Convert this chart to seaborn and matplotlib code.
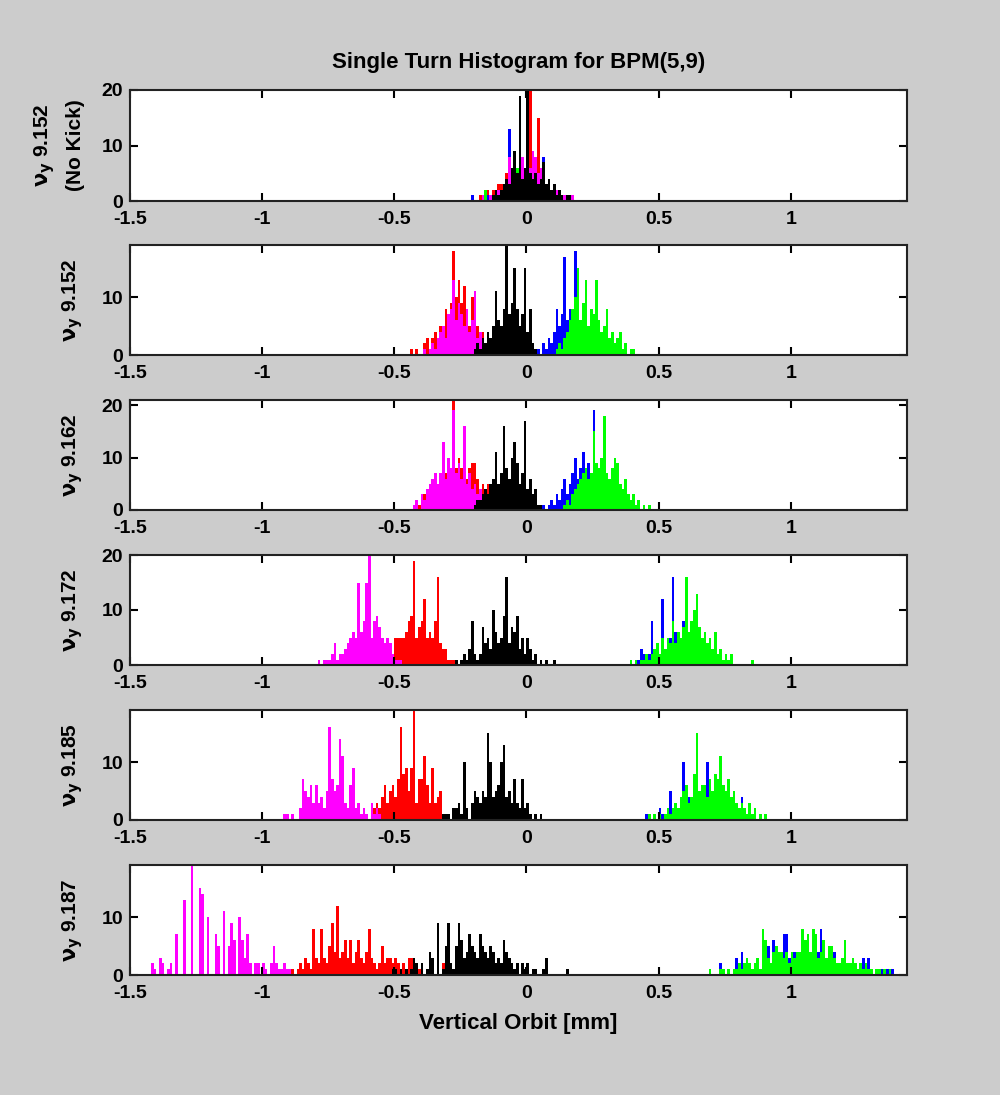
import numpy as np
import pandas as pd
import matplotlib
matplotlib.use("Agg")
import matplotlib.pyplot as plt
import seaborn as sns

# ---------------- data (counts per 0.01 mm bin, first bin centre given) ----------------
TITLE = "Single Turn Histogram for BPM(5,9)"
XLABEL = "Vertical Orbit [mm]"
TUNES = ["9.152", "9.152", "9.162", "9.172", "9.185", "9.187"]
NOTES = ["(No Kick)", "", "", "", "", ""]
XTICKS = [-1.5, -1, -0.5, 0, 0.5, 1]
XTICKLABELS = ["-1.5", "-1", "-0.5", "0", "0.5", "1"]
YTICKS = [0, 10, 20]
XRANGE = (-1.5, 1.44)
BIN = 0.01

# panel 1 (no kick)
p1_red_x0 = -0.205
p1_red = [1,0,0,1,1,1,2,1,2,2,3,3,3,5,4,5,5,3,4,7,5,4,20,5,7,15,5,4,3,2,2,3,1,1,1,0,0,0,0,0]
p1_blue_x0 = -0.205
p1_blue = [1,0,0,0,0,0,1,0,1,1,2,2,3,2,13,4,8,4,5,6,4,5,4,3,6,4,3,8,3,2,2,1,1,0,0,0,0,0,0,0]
p1_green_x0 = -0.205
p1_green = [0,0,0,0,0,2,0,1,1,1,2,2,3,2,3,4,3,6,4,5,4,3,4,3,4,3,2,2,2,1,2,1,1,1,0,0,0,0,0,0]
p1_magenta_x0 = -0.205
p1_magenta = [0,0,0,0,1,0,0,1,0,1,2,1,3,4,8,5,7,5,6,8,5,7,6,9,8,5,6,4,3,3,2,1,2,1,0,1,0,1,1,0]
p1_black_x0 = -0.205
p1_black = [0,0,0,0,0,0,0,0,1,2,1,2,3,4,3,6,9,5,19,4,6,20,5,4,5,3,4,7,3,4,2,3,1,2,1,0,1,1,0,0]

# panel 2
p2_red_x0 = -0.435
p2_red = [1,0,1,0,0,2,3,1,3,4,3,5,5,8,6,9,18,10,13,9,12,6,5,10,4,5,3,4,2,3,1]
p2_blue_x0 = 0.045
p2_blue = [1,0,2,1,3,2,4,8,5,7,17,6,8,5,18,9,4]
p2_green_x0 = 0.115
p2_green = [1,2,1,3,4,6,8,10,15,6,9,13,5,8,7,13,6,4,5,8,3,4,2,3,4,1,2,0,1,1]
p2_magenta_x0 = -0.385
p2_magenta = [1,0,1,2,1,3,4,5,3,7,8,13,6,9,7,5,8,4,6,11,3,4,2,1]
p2_black_x0 = -0.195
p2_black = [1,2,1,3,2,4,3,5,11,6,5,8,19,7,9,15,8,5,7,15,4,8,2,1]

# panel 3
p3_red_x0 = -0.425
p3_red = [0,1,1,2,3,2,4,5,6,5,6,8,7,9,8,21,8,10,8,12,6,8,9,9,6,4,5,3,5,2,1]
p3_blue_x0 = 0.065
p3_blue = [1,0,1,2,1,3,2,4,6,3,5,7,10,6,8,11,6,9,7,19,8]
p3_green_x0 = 0.145
p3_green = [1,2,1,3,4,5,6,7,8,6,7,15,9,8,10,18,7,6,8,10,9,5,4,6,3,2,3,1,2,0,1,0,1]
p3_magenta_x0 = -0.425
p3_magenta = [1,2,0,3,2,4,5,6,7,5,7,13,6,10,8,19,7,9,6,16,5,7,4,5,3,4,2,2,1,1]
p3_black_x0 = -0.195
p3_black = [1,2,2,3,4,3,5,6,11,5,7,16,8,6,10,13,9,5,7,17,4,6,3,4,1,1]

# panel 4
p4_red_x0 = -0.505
p4_red = [2,5,5,5,5,6,8,9,19,5,7,8,12,5,6,5,8,16,4,3,3,1,1,1,1]
p4_blue_x0 = 0.395
p4_blue = [1,0,1,1,3,2,1,2,8,3,4,2,12,3,2,5,16,6,4,5,8,3,4,5,3,4,2,3,2,1,1,0,1,0,0,1,0,1]
p4_green_x0 = 0.395
p4_green = [1,0,1,0,1,1,2,1,2,3,4,2,5,3,5,4,8,4,6,5,7,16,6,8,10,13,7,5,6,4,5,3,6,2,3,1,2,1,2,0,0,0,0,0,0,0,1]
p4_magenta_x0 = -0.785
p4_magenta = [1,0,1,1,1,2,4,1,2,2,3,4,5,6,5,15,6,8,15,20,5,8,9,7,5,4,5,4,2,1,1,1]
p4_black_x0 = -0.265
p4_black = [1,0,1,2,1,3,8,2,1,2,7,4,5,3,10,6,4,5,9,16,4,7,6,9,3,5,2,5,3,1,2,0,1,0,1,0,0,1]

# panel 5
p5_red_x0 = -0.585
p5_red = [3,2,3,2,4,6,3,5,6,4,7,16,8,9,5,9,19,3,7,7,11,6,3,9,3,4,5]
p5_blue_x0 = 0.455
p5_blue = [1,1,0,1,0,2,1,1,2,5,2,3,2,3,10,3,4,3,5,4,2,3,4,10,3,2,4,3,2,3,4,2,1,1,2,1,4,1,1,0,0,1]
p5_green_x0 = 0.465
p5_green = [1,0,1,0,1,0,1,2,1,2,3,2,4,5,6,3,4,8,15,5,6,6,4,7,5,8,7,11,6,5,7,4,5,3,2,3,2,1,3,1,2,0,1,0,1]
p5_magenta_x0 = -0.915
p5_magenta = [1,1,0,1,0,0,2,7,5,4,6,3,6,3,4,2,5,16,7,5,6,14,11,3,2,6,9,2,3,1,2,1,0,3,1,2,1]
p5_black_x0 = -0.315
p5_black = [1,1,1,0,2,2,3,1,10,2,0,3,5,4,3,5,4,15,10,4,5,6,10,13,4,5,3,7,3,2,7,2,3,1,0,1,0,1]

# panel 6
p6_red_x0 = -0.895
p6_red = [1,1,0,1,2,1,3,2,1,8,3,2,8,3,2,5,9,4,12,3,4,6,3,6,2,4,6,3,2,4,8,3,2,1,2,5,2,3,3,2,3,2,1,2,1,3,3,1,0,1,0,0,0,1,0,0,0,0,2]
p6_blue_x0 = 0.735
p6_blue = [2,1,0,1,0,1,3,2,4,1,2,1,0,1,2,0,1,3,5,2,6,2,4,3,7,7,3,2,4,3,4,5,3,2,3,3,2,4,8,6,2,3,2,4,2,1,2,1,1,0,1,0,1,0,3,1,3,1,0,1,0,1,0,1,0,1]
p6_green_x0 = 0.695
p6_green = [1,0,0,0,1,1,0,1,0,1,1,2,1,2,3,2,1,2,3,1,8,6,3,2,4,5,4,4,3,4,2,4,3,4,4,8,6,7,4,8,7,3,4,6,3,5,5,3,2,2,3,6,2,2,3,2,1,2,1,2,1,1,0,1,1,0,1,0,1]
p6_magenta_x0 = -1.415
p6_magenta = [2,1,0,3,2,0,1,2,0,7,0,0,13,0,0,19,0,0,15,14,0,10,0,0,7,5,0,11,0,5,9,6,0,10,6,3,7,2,0,2,2,0,2,1,0,2,5,2,1,1,2,1,1]
p6_black_x0 = -0.505
p6_black = [1,1,0,1,0,1,0,1,3,2,0,2,0,1,4,3,0,9,0,1,5,9,2,1,5,9,6,3,4,7,5,4,3,7,5,4,3,5,4,2,3,2,6,4,3,2,1,2,0,2,1,2,0,1,1,0,0,1,3,0,0,0,0,0,0,0,1]

COLORS = {"red": "#ff0000", "blue": "#0000ff", "green": "#00ff00",
          "magenta": "#ff00ff", "black": "#000000"}
ORDER = ["red", "blue", "green", "magenta", "black"]

PANELS = [
    {"red": (p1_red_x0, p1_red), "blue": (p1_blue_x0, p1_blue), "green": (p1_green_x0, p1_green),
     "magenta": (p1_magenta_x0, p1_magenta), "black": (p1_black_x0, p1_black)},
    {"red": (p2_red_x0, p2_red), "blue": (p2_blue_x0, p2_blue), "green": (p2_green_x0, p2_green),
     "magenta": (p2_magenta_x0, p2_magenta), "black": (p2_black_x0, p2_black)},
    {"red": (p3_red_x0, p3_red), "blue": (p3_blue_x0, p3_blue), "green": (p3_green_x0, p3_green),
     "magenta": (p3_magenta_x0, p3_magenta), "black": (p3_black_x0, p3_black)},
    {"red": (p4_red_x0, p4_red), "blue": (p4_blue_x0, p4_blue), "green": (p4_green_x0, p4_green),
     "magenta": (p4_magenta_x0, p4_magenta), "black": (p4_black_x0, p4_black)},
    {"red": (p5_red_x0, p5_red), "blue": (p5_blue_x0, p5_blue), "green": (p5_green_x0, p5_green),
     "magenta": (p5_magenta_x0, p5_magenta), "black": (p5_black_x0, p5_black)},
    {"red": (p6_red_x0, p6_red), "blue": (p6_blue_x0, p6_blue), "green": (p6_green_x0, p6_green),
     "magenta": (p6_magenta_x0, p6_magenta), "black": (p6_black_x0, p6_black)},
]

# ---------------- style ----------------
plt.rcParams["font.family"] = ["Liberation Sans", "DejaVu Sans"]
plt.rcParams["font.weight"] = "bold"
plt.rcParams["mathtext.fontset"] = "dejavusans"
plt.rcParams["mathtext.default"] = "bf"

BG = "#cccccc"
fig = plt.figure(figsize=(10.0, 10.95), dpi=100, facecolor=BG)

W, H = 1000.0, 1095.0
left_px, right_px = 130, 907
rows_px = [(90, 201), (245, 355), (400, 510), (555, 665), (710, 820), (865, 975)]

axes = []
for i, (top, bot) in enumerate(rows_px):
    ax = fig.add_axes([left_px / W, 1 - bot / H, (right_px - left_px) / W, (bot - top) / H])
    ax.set_facecolor("white")
    ymax = 0
    for key in ORDER:
        x0, counts = PANELS[i][key]
        counts = np.asarray(counts, dtype=float)
        centers = x0 + BIN * np.arange(len(counts))
        edges = [float(c - BIN / 2) for c in centers] + [float(centers[-1] + BIN / 2)]
        ymax = max(ymax, counts.max())
        df = pd.DataFrame({"x": centers, "w": counts})
        sns.histplot(data=df, x="x", weights="w", bins=edges, color=COLORS[key],
                     alpha=1.0, linewidth=0, element="bars", fill=True, ax=ax)
    ax.set_xlim(*XRANGE)
    ax.set_ylim(0, ymax)
    ax.set_xticks(XTICKS)
    ax.set_xticklabels(XTICKLABELS)
    ax.set_yticks([t for t in YTICKS if t <= ymax + 0.01])
    ax.tick_params(axis="both", which="both", direction="in", length=6, width=1.5,
                   top=True, right=True, labelsize=14, colors="black")
    ax.tick_params(axis="x", pad=7)
    ax.tick_params(axis="y", pad=5)
    for lab in ax.get_xticklabels() + ax.get_yticklabels():
        lab.set_fontweight("bold")
    for sp in ax.spines.values():
        sp.set_linewidth(1.5)
        sp.set_color("#222222")
    label = r"$\nu_y$ " + TUNES[i]
    if NOTES[i]:
        label = label + "\n" + NOTES[i]
    ax.set_ylabel(label, fontsize=15, fontweight="bold", linespacing=1.6)
    ax.yaxis.set_label_coords(-0.058, 0.5)
    ax.set_xlabel("")
    axes.append(ax)

axes[0].set_title(TITLE, fontsize=16, fontweight="bold", pad=16)
axes[-1].set_xlabel(XLABEL, fontsize=16, fontweight="bold", labelpad=8)

fig.savefig("out.png", dpi=100, facecolor=BG)
